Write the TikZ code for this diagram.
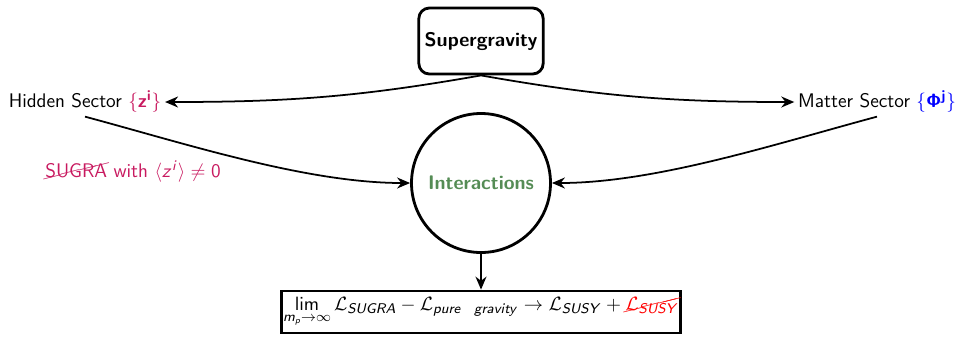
\documentclass[tikz,border=0pt]{standalone}
\usepackage{amsmath,amssymb}
\usepackage{xcolor}
\usepackage{cancel}
\usepackage{tikz}
\usetikzlibrary{arrows.meta,positioning}
\renewcommand{\familydefault}{\sfdefault}
\DeclareMathAlphabet{\mathsfit}{OT1}{cmss}{m}{sl}
\DeclareMathAlphabet{\mathbsf}{OT1}{cmss}{bx}{n}
\definecolor{hidcol}{RGB}{200,25,95}
\definecolor{intcol}{RGB}{85,140,85}
\renewcommand{\CancelColor}{\color{hidcol}}
\newcommand{\redcancel}[1]{{\renewcommand{\CancelColor}{\color{red}}\textcolor{red}{\cancel{#1}}}}
\newcommand{\limitexpr}{$\displaystyle\mathop{\mathsf{lim}}\limits_{\mathsfit{m}_{\mathsfit{p}}\to\infty}\mathcal{L}_{\mathsfit{SUGRA}}-\mathcal{L}_{\mathsfit{pure\ \ gravity}}\to\mathcal{L}_{\mathsfit{SUSY}}+\redcancel{\mathcal{L}_{\mathsfit{SUSY}}}$}

\begin{document}
\begin{tikzpicture}[
  every node/.style={font=\fontsize{11.2}{13.5}\selectfont\sffamily},
  topbox/.style={draw, line width=1.6pt, rectangle, rounded corners=6pt, minimum width=2.48cm, minimum height=1.32cm, align=center, font=\fontsize{11.2}{13.5}\selectfont\sffamily\bfseries},
  sector/.style={inner sep=2pt},
  hub/.style={draw, line width=1.6pt, circle, minimum size=2.78cm, font=\fontsize{11.2}{13.5}\selectfont\sffamily\bfseries, text=intcol},
  resbox/.style={draw, line width=1.6pt, rectangle, minimum width=7.76cm, minimum height=0.84cm, inner sep=1pt, font=\fontsize{10.9}{13}\selectfont\sffamily},
  arr/.style={-{Stealth[length=2.6mm,width=2.2mm]}, line width=1pt},
  lbl/.style={text=hidcol}
]
\useasboundingbox (0,0) rectangle (19.18,-6.72);

\node[sector] (hidden) at (1.70,-2.04) {Hidden Sector \textcolor{hidcol}{$\{\mathbsf{z}^{\mathbsf{i}}\}$}};

\node[topbox] (sugra) at (9.62,-0.82) {Supergravity};

\node[sector] (matter) at (17.54,-2.04) {Matter Sector \textcolor{blue}{$\{\mathbsf{\Phi}^{\mathbsf{j}}\}$}};

\node[hub] (inter) at (9.62,-3.66) {Interactions};

\node[resbox] (limit) at (9.62,-6.24) {\limitexpr};

\node[lbl] (breaking) at (2.66,-3.44) {\cancel{SUGRA} with $\langle \mathsfit{z}^{\mathsfit{i}}\rangle\neq\mathsf{0}$};

% sugra feeds both sectors
\draw[arr] (sugra.south) to[out=190, in=0] (hidden.east);
\draw[arr] (sugra.south) to[out=-10, in=180] (matter.west);

% sectors meet in the hub
\draw[arr] (hidden.south) to[out=-15, in=180, looseness=0.8] (inter.west);
\draw[arr] (matter.south) to[out=195, in=0, looseness=0.8] (inter.east);

\draw[arr] (inter.south) -- (limit.north);

\end{tikzpicture}
\end{document}
